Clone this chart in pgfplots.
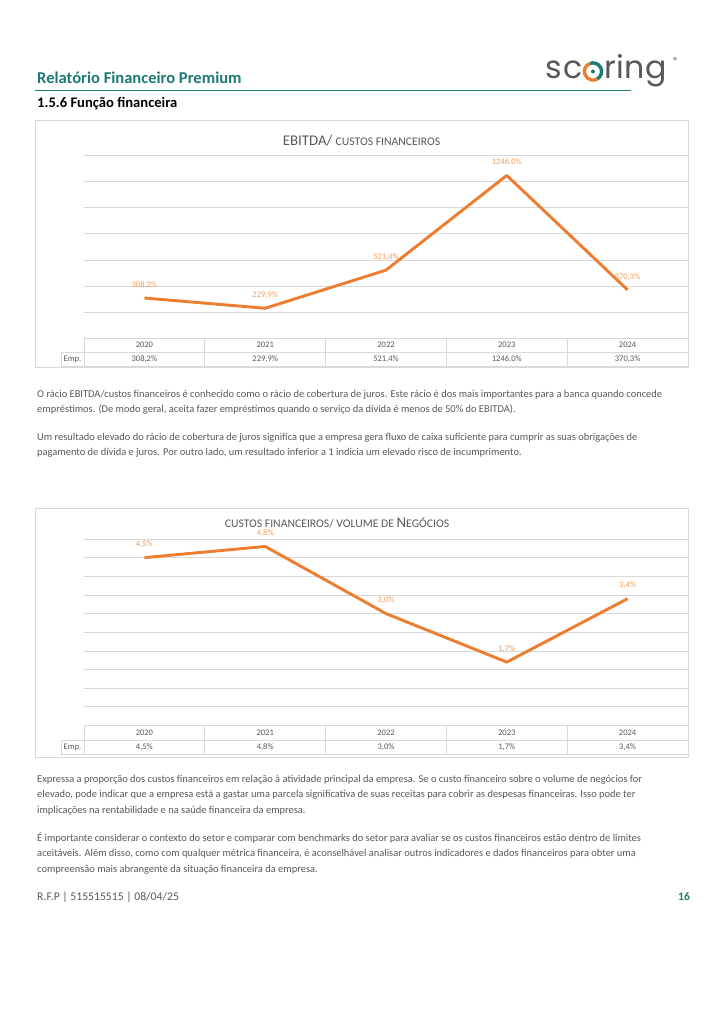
\documentclass[border=0pt]{standalone}
\usepackage{fontspec}
\setmainfont{Carlito}
\newfontfamily\logofont{Poppins}
\usepackage{pgfplots}
\usepackage{pgfplotstable}
\pgfplotsset{compat=1.18}

\definecolor{scteal}{HTML}{1F7A72}
\definecolor{lineorange}{HTML}{ED7D31}
\definecolor{lblorange}{HTML}{F29B5C}
\definecolor{txtgray}{HTML}{595959}
\definecolor{gridgray}{HTML}{D9D9D9}
\definecolor{logogray}{HTML}{58585A}

% values per year, 2020..2024 at x = 0..4
\pgfplotstableread{
x y
0 308.2
1 229.9
2 521.4
3 1246.0
4 370.3
}\ebitda

\pgfplotstableread{
x y
0 4.5
1 4.8
2 3.0
3 1.7
4 3.4
}\custos

\pgfplotsset{
  excelline/.style={
    scale only axis, width=496.6pt,
    xmin=-0.5, xmax=4.5, ymin=0,
    xtick=\empty, yticklabels={},
    ymajorgrids, grid style={gridgray, line width=0.6pt},
    axis line style={draw=none}, major tick length=0pt,
    clip=false,
    nodes near coords={\pgfmathprintnumber[assume math mode=true, fixed, fixed zerofill, precision=1, use comma, 1000 sep={}]{\pgfplotspointmeta}\%},
    every node near coord/.append style={font=\fontsize{7}{8}\selectfont, text=lblorange, yshift=3.5pt},
  },
}

\newcommand{\bodyline}[2]{\node[anchor=base west, inner sep=0pt, text=txtgray, font=\fontsize{8.6}{10.5}\selectfont] at (37,#1) {#2};}

% table under a chart: #1 top, #2 middle, #3 bottom
\newcommand{\datatable}[4]{%
  \draw[gridgray, line width=0.6pt] (61,#2) -- (688,#2) (61,#3) -- (688,#3) (61,#2) -- (61,#3);
  \foreach \k in {0,...,5} \draw[gridgray, line width=0.6pt] ({84+\k*120.8},#1) -- ({84+\k*120.8},#3);
  \foreach \yr [count=\i from 0] in {2020,2021,2022,2023,2024}
    \node[text=txtgray, font=\fontsize{7}{8}\selectfont] at ({144.4+\i*120.8},{(#1+#2)/2}) {\yr};
  \node[text=txtgray, font=\fontsize{7}{8}\selectfont] at (72.5,{(#2+#3)/2}) {Emp.};
  \foreach \v [count=\i from 0] in {#4}
    \node[text=txtgray, font=\fontsize{7}{8}\selectfont] at ({144.4+\i*120.8},{(#2+#3)/2}) {\v};
}

\begin{document}
\begin{tikzpicture}[x=0.8222pt, y=-0.8222pt]
\useasboundingbox (0,0) rectangle (724,1024);
\fill[white] (0,0) rectangle (724,1024);

% header
\node[anchor=base west, inner sep=0pt, text=scteal, font=\fontsize{13.6}{15}\selectfont\bfseries] at (37,84) {Relatório Financeiro Premium};
\draw[scteal, line width=1.5pt] (35,90.5) -- (631,90.5);
\node[anchor=base west, inner sep=0pt, font=\fontsize{12}{14}\selectfont\bfseries] at (37,108) {1.5.6 Função financeira};

% logo
\begin{scope}[text=logogray, font=\logofont\fontsize{26}{26}\selectfont, every node/.style={anchor=base, inner sep=0pt}]
  \node at (554,79) {s};
  \node at (573.5,79) {c};
  \node at (610,79) {r};
  \node at (620.5,79) {i};
  \node at (635,79) {n};
  \node at (656,79) {g};
  \node[font=\logofont\fontsize{7}{7}\selectfont] at (675,64) {®};
\end{scope}
\begin{scope}[shift={(593,71.5)}, yscale=-1]
  \draw[lineorange, line width=2.8pt] (110:8.6) arc (110:300:8.6);
  \draw[scteal, line width=2.8pt] (-60:8.6) arc (-60:110:8.6);
  \fill[scteal] (0,0) circle (2);
\end{scope}

% chart 1
\draw[gridgray, line width=0.6pt] (35,120) rectangle (688,367.5);
\node[anchor=base, inner sep=0pt, text=txtgray] at (361.5,145)
  {\fontsize{12.2}{13}\selectfont EBITDA/ \fontsize{9.6}{10}\selectfont CUSTOS FINANCEIROS};
\begin{axis}[excelline, at={(69.06pt,-278.15pt)}, anchor=south west,
  height=150.46pt, ymax=1400, ytick={0,200,...,1400}]
  \addplot[lineorange, line width=2.4pt, line join=round, mark=none] table[x=x, y=y] {\ebitda};
\end{axis}
\datatable{338.3}{352}{366.5}{{308,2\%},{229,9\%},{521,4\%},{1246,0\%},{370,3\%}}

% text 1
\bodyline{397}{O rácio EBITDA/custos financeiros é conhecido como o rácio de cobertura de juros. Este rácio é dos mais importantes para a banca quando concede}
\bodyline{412}{empréstimos. (De modo geral, aceita fazer empréstimos quando o serviço da dívida é menos de 50\% do EBITDA).}
\bodyline{440}{Um resultado elevado do rácio de cobertura de juros significa que a empresa gera fluxo de caixa suficiente para cumprir as suas obrigações de}
\bodyline{455}{pagamento de dívida e juros. Por outro lado, um resultado inferior a 1 indicia um elevado risco de incumprimento.}

% chart 2
\draw[gridgray, line width=0.6pt] (35,508) rectangle (688,757);
\node[anchor=base, inner sep=0pt, text=txtgray] at (337,527)
  {\fontsize{9.6}{10}\selectfont CUSTOS FINANCEIROS/ VOLUME DE \fontsize{12.2}{13}\selectfont N\fontsize{9.6}{10}\selectfont EGÓCIOS};
\begin{axis}[excelline, at={(69.06pt,-596.5pt)}, anchor=south west,
  height=153.34pt, ymax=5, ytick={0,0.5,...,5}]
  \addplot[lineorange, line width=2.4pt, line join=round, mark=none] table[x=x, y=y] {\custos};
\end{axis}
\datatable{725.5}{740}{754}{{4,5\%},{4,8\%},{3,0\%},{1,7\%},{3,4\%}}

% text 2
\bodyline{782}{Expressa a proporção dos custos financeiros em relação à atividade principal da empresa. Se o custo financeiro sobre o volume de negócios for}
\bodyline{797.5}{elevado, pode indicar que a empresa está a gastar uma parcela significativa de suas receitas para cobrir as despesas financeiras. Isso pode ter}
\bodyline{813}{implicações na rentabilidade e na saúde financeira da empresa.}
\bodyline{841}{É importante considerar o contexto do setor e comparar com benchmarks do setor para avaliar se os custos financeiros estão dentro de limites}
\bodyline{856.5}{aceitáveis. Além disso, como com qualquer métrica financeira, é aconselhável analisar outros indicadores e dados financeiros para obter uma}
\bodyline{872}{compreensão mais abrangente da situação financeira da empresa.}

% footer
\node[anchor=base west, inner sep=0pt, text=txtgray, font=\fontsize{9.6}{10}\selectfont] at (37,900) {R.F.P | 515515515 | 08/04/25};
\node[anchor=base, inner sep=0pt, text=scteal, font=\fontsize{9.5}{10}\selectfont\bfseries] at (684,900) {16};
\end{tikzpicture}
\end{document}
